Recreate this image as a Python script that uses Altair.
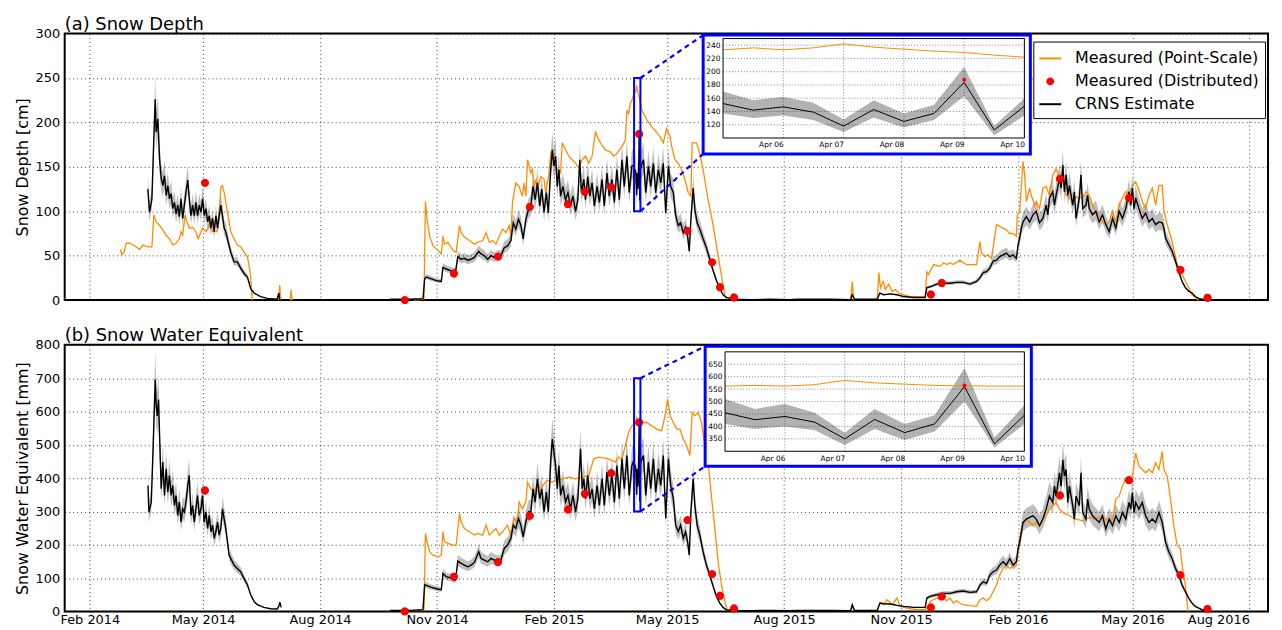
import altair as alt
import pandas as pd

BASE = pd.Timestamp("2014-02-01")   # day 0 of every "day" value below
FONT = "DejaVu Sans"
SERIES = ["Measured (Point-Scale)", "Measured (Distributed)", "CRNS Estimate"]
COLORS = ["#ff8c00", "#ff0000", "#000000"]
# legend / marker glyphs: a thin bar for the two lines, a small disc for the survey points
BAR = "M-1,-0.09H1V0.09H-1Z"
DISC = "M-0.36,0A0.36,0.36 0 1,0 0.36,0A0.36,0.36 0 1,0 -0.36,0Z"
SHAPES = [BAR, DISC, BAR]

# ---------------- (a) Snow depth [cm] : (day since 2014-02-01, value) ----------------
A_CRNS_2014 = [(45.6,125),(46.9,99),(48.8,114),(50.3,181),(51.4,226),(52.1,189),(53.5,204),(54.8,159),(56.1,137),
    (57.4,129),(58.7,140),(60.0,118),(61.3,129),(62.6,114),(63.9,120),(65.2,103),(66.5,110),(67.8,97),(69.1,107),
    (70.4,94),(71.7,114),(73.0,92),(74.3,107),(75.6,122),(77.0,135),(78.2,114),(79.5,95),(80.8,107),(82.1,95),
    (83.4,110),(84.7,95),(86.0,107),(87.4,99),(88.7,114),(90.0,95),(91.3,103),(92.6,88),(93.9,95),(95.1,81),
    (96.5,92),(97.8,77),(99.1,95),(100.4,81),(101.7,95),(103.0,107),(104.3,95),(105.6,81),(106.9,77),(108.2,69),
    (110.8,54),(113.4,43),(116.0,43),(118.6,36),(121.3,30),(123.9,26),(126.5,13),(129.1,8),(134.3,4),(139.5,2),
    (147.3,1),(148.6,8),(149.4,0)]
A_CRNS_1416 = [(236.0,1),(251.6,1),(262.0,1.5),(263.3,24),(264.6,26),(268.6,24),(272.5,22),(276.4,21),(277.7,37),
    (280.3,35),(284.2,33),(287.6,32),(289.4,49),(292.0,46),(294.6,47),(297.2,45),(299.8,46),(302.4,48),(305.8,55),
    (307.7,52),(310.3,50),(312.9,46),(315.5,50),(318.1,48),(320.7,50),(323.3,50),(325.9,59),(328.5,61),(331.1,67),
    (333.0,87),(335.0,80),(337.1,91),(339.0,84),(340.8,69),(342.9,91),(345.0,102),(346.8,106),(348.6,128),(350.2,113),
    (352.0,132),(353.8,106),(355.4,125),(357.2,99),(359.0,121),(360.6,98),(362.4,147),(363.7,169),(365.0,151),
    (366.3,162),(367.6,128),(368.9,147),(370.2,117),(372.0,128),(374.1,113),(376.0,121),(378.0,106),(379.9,117),
    (382.0,100),(383.8,113),(385.3,158),(386.6,121),(388.5,136),(389.8,113),(391.6,139),(393.2,117),(395.0,132),
    (396.8,106),(398.9,128),(400.7,110),(402.8,136),(404.6,106),(406.7,143),(408.5,117),(410.6,136),(412.5,110),
    (414.5,147),(416.4,113),(418.5,158),(420.3,128),(422.4,162),(424.2,121),(426.3,151),
    (428.0,152),(428.5,142),(429.0,147),(429.5,139),(430.0,118),(430.5,143),(431.0,125),(431.5,137),(432.0,184),
    (432.5,112),(433.0,148),
    (435.4,158),(437.2,121),(439.3,151),(441.1,128),(443.2,154),(445.0,121),(447.1,147),(449.0,132),(451.0,154),
    (452.9,98),(455.0,151),(456.8,128),(458.9,121),(460.7,95),(462.8,84),(464.6,87),(466.7,76),(468.5,82),(470.1,72),
    (471.4,55),(472.7,91),(474.5,126),(475.8,102),(477.6,87),(479.7,80),(482.3,69),(484.9,59),(487.5,46),(490.2,33),
    (492.8,22),(495.4,13),(498.0,6),(500.6,3),(506.6,1),(520.0,0.5),(535.0,1),(550.0,0.5),
    (556.6,1),(582.7,1),(598.3,0.5),(599.6,6),(601.4,1),(619.2,1),(621.3,8),(624.4,6),(629.6,7),(634.8,6),(640.0,4),
    (647.8,3),(656.9,3),(658.3,14),(660.9,15),(666.1,18),(671.3,19),(676.5,19),(681.7,20),(687.0,20),(692.2,18),
    (697.4,21),(700.0,25),(702.6,31),(705.2,32),(707.8,36),(710.4,44),(713.0,45),(715.6,49),(718.2,51),(720.8,53),
    (723.4,49),(726.1,51),(728.7,47),(730.0,62),(731.3,70),(732.6,81),(733.9,88),(736.5,94),(739.1,88),(741.7,96),
    (744.3,100),(746.9,87),(749.5,92),(752.1,107),(753.4,96),(754.7,115),(757.3,122),(758.6,107),(759.9,118),
    (762.6,137),(763.9,126),(765.2,152),(766.5,122),(767.8,141),(769.1,118),(770.4,129),(773.0,107),(774.3,122),
    (775.6,92),(778.2,115),(779.5,141),(780.8,103),(783.4,107),(784.7,118),(786.0,103),(788.6,96),(791.2,100),
    (793.8,88),(796.4,96),(799.0,85),(801.7,77),(804.3,92),(806.9,81),(809.5,100),(812.1,92),(814.7,103),(817.3,122),
    (818.6,107),(819.9,126),(821.2,103),(822.5,115),(825.1,103),(827.7,92),(830.3,98),(833.0,88),(835.6,92),
    (838.2,85),(840.8,88),(843.4,87),(844.7,81),(846.0,70),(848.6,62),(851.2,55),(853.8,44),(856.4,32),(859.0,21),
    (861.6,14),(864.2,10),(866.8,8),(869.4,4),(872.1,2),(874.7,1),(880.0,0)]
A_POINT_2014 = [(24.0,57),(25.3,51),(26.8,54),(28.7,64),(31.3,64),(33.9,62),(36.5,60),(39.1,57),(41.7,62),(45.6,60),
    (48.8,60),(50.3,96),(52.1,88),(54.8,84),(57.4,79),(60.0,73),(62.6,69),(65.2,62),(67.8,64),(70.4,69),(71.7,77),
    (73.0,73),(74.9,96),(76.4,88),(78.2,81),(80.8,82),(83.4,77),(85.2,69),(87.4,77),(88.7,81),(91.3,77),(93.1,81),
    (95.1,92),(96.5,77),(99.1,77),(100.9,81),(103.0,127),(104.3,129),(106.1,118),(108.2,99),(110.8,77),(113.4,69),
    (116.0,62),(118.6,60),(121.3,54),(123.9,49),(126.0,32),(127.8,0)]
A_POINT_SPIKE1 = [(148.6,0),(149.3,17),(150.0,0)]
A_POINT_SPIKE2 = [(157.6,0),(158.3,12),(159.0,0)]
A_POINT_1415 = [(255.0,0),(262.8,1),(263.9,111),(265.2,91),(267.2,72),(269.9,61),(273.8,56),(276.4,52),(277.7,72),
    (279.0,63),(281.6,65),(285.5,56),(288.1,54),(290.7,84),(292.0,76),(294.6,71),(298.5,67),(302.4,63),(305.0,65),
    (309.0,67),(311.6,76),(314.2,65),(316.8,67),(319.4,63),(322.0,72),(324.6,80),(327.2,76),(329.8,84),(331.1,72),
    (332.4,110),(335.0,132),(337.6,128),(340.2,117),(341.5,132),(342.9,117),(344.2,158),(345.5,151),(346.8,143),
    (348.1,147),(349.4,128),(350.7,136),(352.0,125),(354.6,139),(357.2,136),(358.5,121),(361.1,143),(362.4,165),
    (363.7,169),(365.0,158),(367.6,147),(370.2,143),(371.5,177),(372.8,173),(376.7,162),(382.0,154),(384.6,149),
    (387.2,158),(389.8,162),(392.4,154),(395.0,162),(397.6,190),(400.2,180),(405.4,169),(409.3,167),(412.0,162),
    (414.5,165),(418.5,173),(421.1,180),(422.4,214),(423.7,210),(425.0,221),(426.3,225),
    (428.0,233),(428.5,236),(429.0,233),(429.5,236),(430.0,242),(430.5,237),(431.0,234),(431.5,231),(432.0,229),
    (432.5,225),(433.0,222),
    (434.1,214),(438.0,203),(441.9,195),(444.5,191),(448.4,184),(451.0,177),(453.6,193),(456.3,184),(457.6,173),
    (460.2,158),(462.8,154),(465.4,147),(468.0,136),(470.6,121),(472.7,117),(473.7,177),(477.1,177),(479.7,165),
    (482.3,147),(486.2,113),(490.2,84),(494.1,50),(496.7,28),(499.3,6),(500.6,1)]
A_POINT_SPIKE3 = [(598.3,0),(599.6,20.5),(600.9,0)]
A_POINT_1516 = [(619.2,0),(620.5,31),(621.8,14),(623.9,21),(625.7,12),(628.3,18),(630.9,10),(633.5,12),(636.1,8),
    (640.0,6),(645.2,4),(650.5,4),(656.9,4),(658.3,32),(659.6,29),(663.5,40),(668.7,38),(671.3,42),(673.9,40),
    (676.5,42),(679.1,40),(684.3,45),(687.0,42),(689.6,40),(694.8,40),(697.4,40),(700.0,66),(701.3,53),(703.9,49),
    (706.5,51),(709.1,47),(710.4,59),(713.0,85),(715.6,83),(718.2,81),(720.8,79),(723.4,75),(726.1,75),(728.7,72),
    (729.4,96),(731.3,100),(733.9,156),(735.2,141),(736.5,111),(739.1,126),(740.4,118),(743.0,107),(744.3,111),
    (746.9,103),(749.5,126),(752.1,128),(754.7,118),(757.3,141),(759.9,148),(762.6,137),(765.2,133),(767.8,118),
    (770.4,115),(773.0,111),(775.6,116),(778.2,115),(780.8,116),(783.4,122),(786.0,118),(788.6,107),(791.2,100),
    (793.8,96),(796.4,88),(799.0,85),(801.7,88),(804.3,100),(806.9,88),(809.5,107),(812.1,115),(814.7,122),
    (817.3,118),(819.9,129),(822.5,133),(825.1,124),(827.7,111),(830.3,103),(833.0,118),(835.6,126),(838.2,107),
    (840.8,129),(843.4,129),(844.7,101),(847.3,85),(851.2,66),(855.1,40),(859.0,29),(861.6,21),(864.2,14),
    (866.8,6),(869.4,3),(872.1,0)]

# ---------------- (b) Snow water equivalent [mm] ----------------
B_CRNS_2014 = [(45.7,378),(46.4,298),(48.3,328),(49.8,497),(51.4,696),(52.2,617),(53.0,587),(54.0,636),(55.0,507),
    (56.1,368),(57.4,448),(58.7,348),(60.0,428),(61.3,358),(62.6,408),(63.9,348),(65.2,378),(66.5,318),(67.8,348),
    (69.1,288),(70.4,328),(71.7,268),(73.0,308),(74.3,298),(75.6,328),(77.0,378),(78.2,408),(79.5,288),(80.8,318),
    (82.1,268),(83.4,308),(84.7,348),(86.0,288),(87.4,308),(88.6,348),(89.9,268),(91.3,298),(92.6,249),(93.9,288),
    (95.2,239),(96.5,259),(97.8,219),(99.1,239),(100.4,268),(101.7,229),(103.0,249),(104.3,308),(105.6,278),
    (106.9,249),(108.2,209),(109.5,169),(110.8,159),(113.4,139),(116.0,129),(118.6,119),(121.2,99),(123.9,80),
    (126.5,50),(129.1,30),(131.7,20),(136.9,12),(142.1,8),(147.3,7),(148.6,15),(149.4,28),(150.5,12)]
B_CRNS_1416 = [(236.0,3),(251.6,3),(262.0,5),(263.3,80),(264.6,78),(268.6,72),(272.5,68),(276.4,65),(277.7,114),
    (280.3,104),(284.2,100),(287.6,95),(289.4,151),(292.0,144),(294.6,139),(297.2,134),(299.8,139),(302.4,147),
    (305.8,179),(307.7,159),(310.3,154),(312.9,149),(315.5,159),(318.1,154),(320.7,149),(323.3,154),(325.9,189),
    (328.5,199),(331.1,219),(333.0,259),(335.0,249),(337.1,279),(339.0,259),(340.8,224),(342.9,269),(345.0,299),
    (346.8,299),(348.6,368),(350.2,328),(352.0,398),(353.8,338),(355.4,368),(357.2,299),(359.0,358),(360.6,299),
    (362.4,448),(363.7,517),(365.0,478),(366.3,438),(367.6,368),(368.9,438),(370.2,348),(372.0,378),(374.1,328),
    (376.0,348),(378.0,308),(379.9,348),(382.0,299),(383.8,338),(385.9,488),(387.2,368),(388.5,398),(389.8,338),
    (391.6,408),(393.2,338),(395.0,368),(396.8,308),(398.9,378),(400.7,318),(402.8,398),(404.6,318),(406.7,418),
    (408.5,348),(410.6,408),(412.5,328),(414.5,438),(416.4,338),(418.5,458),(420.3,368),(422.4,468),(424.2,348),
    (426.3,438),
    (428.0,455),(428.5,427),(429.0,440),(429.5,417),(430.0,350),(430.5,428),(431.0,375),(431.5,410),(432.0,560),
    (432.5,330),(433.0,445),
    (435.4,468),(437.2,348),(439.3,448),(441.1,368),(443.2,458),(445.0,358),(447.1,428),(449.0,378),(451.0,468),
    (452.9,279),(455.0,458),(456.8,378),(458.9,338),(460.7,259),(462.8,239),(464.6,259),(466.7,219),(468.5,239),
    (470.1,209),(471.4,169),(472.7,299),(474.5,398),(475.8,318),(477.6,259),(479.7,229),(482.3,179),(484.9,139),
    (487.5,109),(490.2,75),(492.8,45),(495.4,25),(498.0,12),(500.6,5),(506.6,3),(520.0,2),(535.0,3),(550.0,2),
    (556.6,3),(582.7,3),(598.3,2),(599.6,20),(601.4,3),(619.2,3),(621.3,25),(624.4,23),(629.6,22),(634.8,18),
    (640.0,15),(647.8,12),(656.9,12),(658.3,40),(660.9,45),(666.1,50),(671.3,54),(676.5,54),(681.7,59),(687.0,61),
    (692.2,57),(697.4,59),(700.0,79),(702.6,89),(705.2,84),(707.8,109),(710.4,119),(713.0,124),(715.6,139),
    (718.2,149),(720.8,139),(723.4,158),(726.1,139),(728.7,149),(730.0,188),(731.3,208),(732.6,238),(733.9,267),
    (736.5,277),(739.1,282),(741.7,287),(744.3,277),(746.9,257),(749.5,277),(752.1,307),(753.4,327),(754.7,346),
    (757.3,327),(758.6,376),(759.9,346),(762.6,416),(763.9,376),(765.2,455),(766.5,406),(767.8,426),(769.1,327),
    (770.4,376),(773.0,317),(774.3,277),(775.6,346),(778.2,317),(779.5,416),(780.8,297),(783.4,277),(784.7,337),
    (786.0,307),(788.6,287),(791.2,277),(793.8,267),(796.4,287),(799.0,248),(801.7,277),(804.3,257),(806.9,287),
    (809.5,267),(812.1,297),(814.7,277),(817.3,327),(818.6,307),(819.9,356),(821.2,297),(822.5,327),(825.1,307),
    (827.7,327),(830.3,287),(833.0,267),(835.6,277),(838.2,267),(840.8,297),(843.4,267),(844.7,238),(846.0,208),
    (848.6,178),(851.2,158),(853.8,129),(856.4,109),(859.0,79),(861.6,59),(864.2,40),(866.8,25),(869.4,15),
    (872.1,10),(874.7,5),(877.3,2),(881.0,0)]
B_POINT_1415 = [(255.0,2),(262.8,3),(263.9,234),(265.2,209),(267.2,179),(269.9,169),(273.8,164),(276.4,169),
    (277.7,239),(279.0,209),(281.6,204),(285.5,199),(288.1,199),(290.7,294),(292.0,269),(294.6,249),(298.5,239),
    (302.4,229),(305.0,234),(309.0,229),(311.6,259),(314.2,229),(316.8,239),(319.4,249),(322.0,229),(324.6,239),
    (328.5,259),(331.1,229),(333.7,279),(336.3,269),(337.6,328),(340.2,308),(342.9,328),(344.2,388),(346.8,368),
    (349.4,358),(352.0,378),(354.6,368),(357.2,383),(359.8,393),(363.7,388),(366.3,393),(371.5,398),(376.7,403),
    (382.0,398),(387.2,403),(392.4,408),(396.3,458),(400.2,463),(408.0,458),(413.2,448),(415.8,463),(418.5,458),
    (421.1,498),(423.7,537),(426.3,557),
    (428.0,562),(428.5,565),(429.0,562),(429.5,568),(430.0,585),(430.5,575),(431.0,570),(431.5,565),(432.0,563),
    (432.5,562),(433.0,562),
    (434.1,567),(438.0,567),(441.9,557),(445.8,547),(449.7,542),(452.3,587),(454.4,637),(456.3,587),(458.9,567),
    (461.5,547),(464.1,547),(466.7,517),(469.3,498),(471.9,468),(473.7,597),(475.8,587),(478.4,597),(481.0,567),
    (483.6,498),(486.2,448),(488.8,348),(491.5,249),(494.1,149),(496.7,80),(499.3,30),(501.4,3)]
B_POINT_SPIKE = [(598.3,2),(599.6,15),(601.4,2)]
B_POINT_1516 = [(619.2,2),(621.8,25),(624.4,20),(627.0,35),(630.9,20),(634.8,40),(637.4,15),(642.6,10),(650.5,5),
    (656.9,5),(659.6,20),(660.9,30),(663.5,35),(666.1,40),(668.7,35),(671.3,40),(673.9,32),(676.5,40),(679.1,25),
    (681.7,32),(684.3,25),(687.0,20),(692.2,17),(697.4,15),(700.0,35),(702.6,40),(705.2,32),(707.8,40),(710.4,59),
    (713.0,79),(715.6,109),(718.2,129),(720.8,139),(723.4,129),(726.1,134),(728.7,139),(730.0,178),(731.3,208),
    (733.9,257),(736.5,277),(739.1,267),(741.7,257),(744.3,267),(746.9,257),(749.5,277),(752.1,287),(754.7,307),
    (757.3,317),(759.9,327),(762.6,307),(765.2,297),(767.8,292),(770.4,287),(775.6,277),(780.8,272),(783.4,277),
    (786.0,282),(791.2,277),(796.4,287),(799.0,277),(801.7,267),(804.3,277),(806.9,337),(809.5,346),(812.1,376),
    (814.7,401),(817.3,396),(819.9,406),(822.5,475),(825.1,436),(827.7,426),(830.3,416),(833.0,426),(835.6,416),
    (838.2,446),(840.8,426),(843.4,480),(844.7,426),(847.3,406),(849.9,337),(852.5,257),(855.1,198),(857.7,188),
    (859.0,139),(861.6,79),(863.7,0)]

# distributed survey days and values
DIST_DAYS = [90.5, 247.7, 286.3, 321.0, 346.0, 376.0, 389.3, 410.0, 432.0, 470.0, 489.4, 495.6, 506.6,
             661.4, 670.0, 763.0, 817.3, 857.7, 879.0]
A_DIST = [132, 0, 30, 49, 105, 108, 122, 127, 187, 78, 42.5, 14.5, 3, 6.3, 19.4, 136.6, 115, 34, 2.6]
B_DIST = [363, 0, 104, 148, 287, 306, 353, 415, 567, 274, 112, 47, 9, 12, 45, 348, 394, 109, 7]

BAND_LO, BAND_HI = 0.90, 1.12

# ---------------- insets: 5-10 April 2015, every 12 h ----------------
INSET_T = pd.date_range("2015-04-05", periods=11, freq="12h")
A_IN_CRNS = [152, 142, 147, 139, 118, 143, 125, 137, 184, 112, 148]
A_IN_HI = [170, 157, 162, 153, 128, 157, 137, 150, 207, 118, 160]
A_IN_LO = [137, 130, 134, 127, 109, 131, 116, 127, 163, 104, 134]
A_IN_POINT = [233, 236, 233, 236, 242, 237, 234, 231, 229, 225, 222]
A_IN_DOT = 188
B_IN_CRNS = [455, 427, 440, 417, 350, 428, 375, 410, 560, 330, 445]
B_IN_HI = [510, 470, 490, 455, 375, 470, 410, 445, 635, 355, 485]
B_IN_LO = [410, 390, 400, 385, 325, 390, 345, 380, 500, 315, 410]
B_IN_POINT = [562, 565, 562, 568, 585, 575, 570, 565, 563, 562, 562]
B_IN_DOT = 565
INSET_DOT_T = pd.Timestamp("2015-04-09")
INSET_TICKS = pd.date_range("2015-04-06", periods=5, freq="D")

TICK_MONTHS = [(2014, 2), (2014, 5), (2014, 8), (2014, 11), (2015, 2), (2015, 5), (2015, 8), (2015, 11),
               (2016, 2), (2016, 5), (2016, 8)]

# ---------------- layout ----------------
W, H = 1210, 268


def dt(y, m, d, h=0, mi=0):
    return alt.DateTime(year=y, month=m, date=d, hours=h, minutes=mi)


XSCALE = alt.Scale(domain=[dt(2014, 1, 12, 4, 48), dt(2016, 8, 15, 14, 24)])
CSCALE = alt.Scale(domain=SERIES, range=COLORS)
SSCALE = alt.Scale(domain=SERIES, range=SHAPES)
ONE = pd.DataFrame({"k": [0]})
GRID = dict(gridDash=[1, 3], gridColor="#000000", gridOpacity=0.75, gridWidth=1)


def seg_df(segs, series):
    rows = []
    for i, seg in enumerate(segs):
        for d, v in seg:
            rows.append((BASE + pd.Timedelta(days=d), v, series, i))
    return pd.DataFrame(rows, columns=["date", "value", "series", "seg"])


def legend_def():
    return alt.Legend(
        title=None, orient="none", legendX=974, legendY=8, fillColor="white", strokeColor="#000000",
        padding=6, rowPadding=4, labelFontSize=16, labelFont=FONT, labelColor="black", labelLimit=400,
        labelOffset=14, symbolSize=484, symbolStrokeWidth=0, symbolOpacity=1)


def panel(title, ytitle, ymax, ystep, crns_segs, point_segs, dist_vals, ins, xlabels, show_legend):
    xaxis = alt.Axis(orient="bottom", values=[dt(y, m, 1) for y, m in TICK_MONTHS], format="%b %Y",
                     labels=xlabels, ticks=False, domain=False, grid=True, title=None, labelFontSize=13,
                     labelPadding=2, labelFlush=22, labelColor="black", **GRID)
    yaxis = alt.Axis(orient="left", values=list(range(0, ymax + 1, ystep)), title=ytitle, titleFontSize=16,
                     titleFontWeight="normal", titleColor="black", titlePadding=5, labelFontSize=13,
                     labelPadding=5, labelFlush=False, labelColor="black", ticks=False, domain=False,
                     grid=True, **GRID)
    ysc = alt.Scale(domain=[0, ymax], nice=False, zero=False)
    leg = legend_def() if show_legend else None
    color_noleg = alt.Color("series:N", scale=CSCALE, legend=None)

    def X(axis=None):
        return alt.X("date:T", scale=XSCALE, axis=axis)

    def Y(field, axis=None):
        return alt.Y(field, scale=ysc, axis=axis)

    crns = seg_df(crns_segs, SERIES[2])
    crns["lo"] = crns["value"] * BAND_LO
    crns["hi"] = crns["value"] * BAND_HI
    point = seg_df(point_segs, SERIES[0])
    dist = pd.DataFrame({"date": [BASE + pd.Timedelta(days=d) for d in DIST_DAYS], "value": dist_vals,
                         "series": SERIES[1]})

    band = alt.Chart(crns).mark_area(color="#000000", opacity=0.25).encode(
        x=X(xaxis), y=Y("lo:Q", yaxis), y2="hi:Q", detail="seg:N")
    # survey points: first copy carries the legend, second copy is drawn on top of the lines
    dots_leg = alt.Chart(dist).mark_point(filled=True, size=484, opacity=1, strokeWidth=0).encode(
        x=X(), y=Y("value:Q"),
        color=alt.Color("series:N", scale=CSCALE, legend=leg),
        shape=alt.Shape("series:N", scale=SSCALE, legend=leg))
    pline = alt.Chart(point).mark_line(strokeWidth=1.3).encode(
        x=X(), y=Y("value:Q"), color=color_noleg, detail="seg:N")
    cline = alt.Chart(crns).mark_line(strokeWidth=1.4).encode(
        x=X(), y=Y("value:Q"), color=color_noleg, detail="seg:N")
    dots = alt.Chart(dist).mark_point(filled=True, size=484, opacity=1, strokeWidth=0).encode(
        x=X(), y=Y("value:Q"), color=color_noleg,
        shape=alt.Shape("series:N", scale=SSCALE, legend=None))

    t0, t1 = dt(2015, 4, 5), dt(2015, 4, 10)
    rect = alt.Chart(ONE).mark_rect(filled=False, stroke="#0000ff", strokeWidth=2).encode(
        x=alt.XDatum(t0, type="temporal", scale=XSCALE, axis=None), x2=alt.X2Datum(t1),
        y=alt.YDatum(ins["ymin"], scale=ysc, axis=None), y2=alt.Y2Datum(ins["ymax"]))
    bx0, bx1, by0, by1 = ins["box"]
    conn_top = alt.Chart(ONE).mark_rule(color="#0000ff", strokeWidth=2.2, strokeDash=[5, 4]).encode(
        x=alt.XDatum(t1, type="temporal", scale=XSCALE, axis=None),
        y=alt.YDatum(ins["ymax"], scale=ysc, axis=None),
        x2=alt.value(bx0), y2=alt.value(by0))
    conn_bot = alt.Chart(ONE).mark_rule(color="#0000ff", strokeWidth=2.2, strokeDash=[5, 4]).encode(
        x=alt.XDatum(t1, type="temporal", scale=XSCALE, axis=None),
        y=alt.YDatum(ins["ymin"], scale=ysc, axis=None),
        x2=alt.value(bx0), y2=alt.value(by1))

    # ---- inset ----
    px0, px1, py0, py1 = ins["plot"]
    xin_sc = alt.Scale(domain=[t0, t1], range=[px0, px1])
    yin_sc = alt.Scale(domain=[ins["ymin"], ins["ymax"]], range=[py1, py0], nice=False, zero=False)
    xin_axis = alt.Axis(orient="bottom", offset=-(H - py1), values=[dt(2015, 4, d) for d in range(6, 11)],
                        format="%b %d", labelFontSize=7.5, labelAlign="right", labelPadding=3, labelColor="black",
                        ticks=False, domain=False, grid=False, title=None, zindex=2, labelFlush=False)
    yin_axis = alt.Axis(orient="left", offset=-px0, values=ins["yticks"], labelFontSize=7.5, labelPadding=3,
                        labelColor="black", ticks=False, domain=False, grid=False, title=None, zindex=2,
                        labelFlush=False)

    def XI(axis=None):
        return alt.X("t:T", scale=xin_sc, axis=axis)

    def YI(field, axis=None):
        return alt.Y(field, scale=yin_sc, axis=axis)

    idf = pd.DataFrame({"t": INSET_T, "v": ins["crns"], "lo": ins["lo"], "hi": ins["hi"], "p": ins["point"]})

    box = alt.Chart(ONE).mark_rect(fill="white", stroke="#0000ff", strokeWidth=3).encode(
        x=alt.value(bx0), x2=alt.value(bx1), y=alt.value(by0), y2=alt.value(by1))
    gstyle = dict(color="#666666", strokeWidth=0.8, strokeDash=[1, 2])
    vgrid = alt.Chart(pd.DataFrame({"t": INSET_TICKS})).mark_rule(**gstyle).encode(
        x=XI(xin_axis), y=alt.YDatum(ins["ymin"], scale=yin_sc, axis=None), y2=alt.Y2Datum(ins["ymax"]))
    hgrid = alt.Chart(pd.DataFrame({"v": ins["yticks"]})).mark_rule(**gstyle).encode(
        y=YI("v:Q", yin_axis), x=alt.XDatum(t0, type="temporal", scale=xin_sc, axis=None), x2=alt.X2Datum(t1))
    iband = alt.Chart(idf).mark_area(color="#000000", opacity=0.3).encode(
        x=XI(), y=YI("lo:Q"), y2="hi:Q")
    ipoint = alt.Chart(idf).mark_line(color="#ff8c00", strokeWidth=1).encode(x=XI(), y=YI("p:Q"))
    icrns = alt.Chart(idf).mark_line(color="#000000", strokeWidth=1).encode(x=XI(), y=YI("v:Q"))
    idot = alt.Chart(pd.DataFrame({"t": [INSET_DOT_T], "v": [ins["dot"]]})).mark_circle(
        color="#ff0000", size=16, opacity=1).encode(x=XI(), y=YI("v:Q"))
    iframe = alt.Chart(ONE).mark_rect(filled=False, stroke="#000000", strokeWidth=1).encode(
        x=alt.XDatum(t0, type="temporal", scale=xin_sc, axis=None), x2=alt.X2Datum(t1),
        y=alt.YDatum(ins["ymin"], scale=yin_sc, axis=None), y2=alt.Y2Datum(ins["ymax"]))

    return alt.layer(band, dots_leg, pline, cline, dots, rect, conn_top, conn_bot,
                     box, vgrid, hgrid, iband, ipoint, icrns, idot, iframe
                     ).resolve_scale(x="independent", y="independent").properties(
        width=W, height=H,
        title=alt.TitleParams(title, anchor="start", frame="group", fontSize=18, fontWeight="normal",
                              font=FONT, color="black", offset=-6))


inset_a = dict(ymin=100, ymax=250, yticks=[120, 140, 160, 180, 200, 220, 240],
               crns=A_IN_CRNS, lo=A_IN_LO, hi=A_IN_HI, point=A_IN_POINT, dot=A_IN_DOT,
               plot=(662, 965, 5, 105), box=(642, 971, 1.5, 121))
inset_b = dict(ymin=300, ymax=700, yticks=[350, 400, 450, 500, 550, 600, 650],
               crns=B_IN_CRNS, lo=B_IN_LO, hi=B_IN_HI, point=B_IN_POINT, dot=B_IN_DOT,
               plot=(664, 965, 7, 107), box=(644, 972, 1.5, 122))

pa = panel("(a) Snow Depth", "Snow Depth [cm]", 300, 50,
           [A_CRNS_2014, A_CRNS_1416],
           [A_POINT_2014, A_POINT_SPIKE1, A_POINT_SPIKE2, A_POINT_1415, A_POINT_SPIKE3, A_POINT_1516],
           A_DIST, inset_a, False, True)
pb = panel("(b) Snow Water Equivalent", "Snow Water Equivalent [mm]", 800, 100,
           [B_CRNS_2014, B_CRNS_1416],
           [B_POINT_1415, B_POINT_SPIKE, B_POINT_1516],
           B_DIST, inset_b, True, False)

chart = alt.vconcat(pa, pb, spacing=18).resolve_scale(color="independent", shape="independent").configure(
    font=FONT).configure_view(stroke="#000000", strokeWidth=2)

chart.save("out.html", embed_options={"renderer": "svg", "actions": False})
